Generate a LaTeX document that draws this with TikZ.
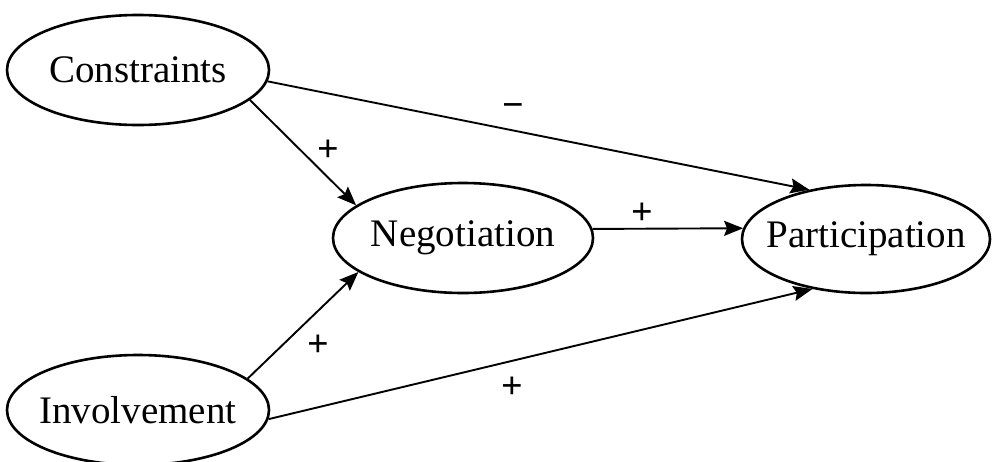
\documentclass[tikz,border=0pt]{standalone}
\usepackage{fontspec}
\setmainfont{Liberation Serif}
\usetikzlibrary{shapes.geometric,arrows.meta}
\tikzset{
  var/.style={ellipse,draw,line width=2.6pt,inner xsep=-40pt,inner ysep=-10pt,font=\fontsize{39}{42}\selectfont},
  link/.style={line width=1.9pt,-{Stealth[length=19pt,width=15pt,inset=3pt]}},
  sign/.style={font=\fontsize{38}{40}\selectfont\bfseries,inner sep=0pt}
}
\begin{document}
\begin{tikzpicture}[x=1pt,y=-1pt]
\useasboundingbox (0,0) rectangle (993,461);
\node[var,minimum width=262pt,minimum height=110pt] (c) at (138,70) {Constraints};
\node[var,minimum width=260pt,minimum height=110pt] (n) at (463,238) {Negotiation};
\node[var,minimum width=248pt,minimum height=108pt] (p) at (866,239) {Participation};
\node[var,minimum width=262pt,minimum height=110pt] (i) at (138,410) {Involvement};
\draw[link] (c.-15) -- (n.163);
\draw[link] (c.-5) -- (p.139);
\draw[link] (n.4) -- (p.175);
\draw[link] (i.16) -- (n.198);
\draw[link] (i.-4) -- (p.223);
\node[sign] (s1) at (328,151) {+};
\node[sign] (s2) at (513,111) {−};
\node[sign] (s3) at (642,214) {+};
\node[sign] (s4) at (318,346) {+};
\node[sign] (s5) at (512,388) {+};
\end{tikzpicture}
\end{document}
